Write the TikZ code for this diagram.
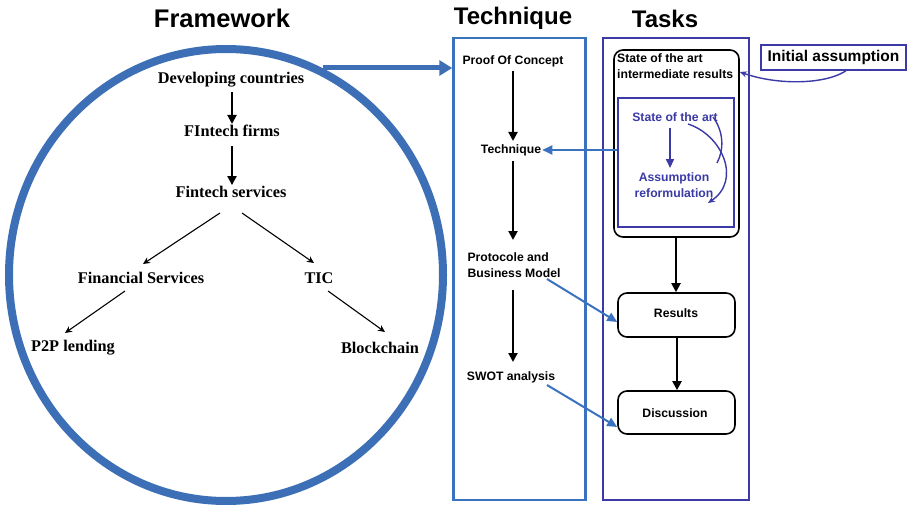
\documentclass[tikz,border=0pt]{standalone}
\usepackage{fontspec}
\setmainfont{Liberation Serif}
\setsansfont{Liberation Sans}
\usetikzlibrary{arrows.meta}
\definecolor{cblue}{HTML}{3D6FB6}
\definecolor{tblue}{HTML}{3A72C0}
\definecolor{indig}{HTML}{3B3AA6}
\begin{document}
\begin{tikzpicture}[x=1pt,y=-1pt,
  fw/.style={font=\fontsize{16.3}{18}\selectfont\bfseries\rmfamily, inner sep=1pt},
  ttl/.style={font=\fontsize{24}{26}\selectfont\bfseries\sffamily, inner sep=0pt},
  tx/.style={font=\fontsize{12.2}{15.5}\selectfont\bfseries\sffamily, inner sep=1pt},
  itx/.style={tx, text=indig},
  blk/.style={-{Triangle[length=9pt,width=9pt]}, line width=2pt, black},
  thin/.style={-{Stealth[length=7pt,width=6.5pt]}, line width=1.1pt, black},
  barr/.style={-{Triangle[length=10pt,width=9pt]}, line width=2pt, tblue},
  iarr/.style={-{Stealth[length=7pt,width=6pt]}, line width=1.4pt, indig},
  rbox/.style={draw=black, line width=1.6pt, rounded corners=9pt}
]
\useasboundingbox (0,0) rectangle (907,508);
\fill[white] (0,0) rectangle (907,508);

% titles
\node[ttl, font=\fontsize{25.5}{28}\selectfont\bfseries\sffamily] (tf) at (222,18) {Framework};
\node[ttl] (tt) at (513,18) {Technique};
\node[ttl] (tk) at (665,19) {Tasks};

% framework circle
\draw[cblue, line width=8pt] (226,275) ellipse [x radius=217, y radius=226];
\coordinate (cstart) at (323,68);

\node[fw] (dev) at (231,80) {Developing countries};
\node[fw] (firms) at (232,131) {FIntech firms};
\node[fw] (serv) at (231,192) {Fintech services};
\node[fw] (fin) at (141,278) {Financial Services};
\node[fw] (tic) at (319,278) {TIC};
\node[fw] (p2p) at (73,348) {P2P lending};
\node[fw] (bc) at (380,348) {Blockchain};

\draw[blk] (232,92) -- (firms.north -| 232,0);
\draw[blk] (232,146) -- (serv.north -| 232,0);
\draw[thin] (220,213) -- (143,264);
\draw[thin] (242,213) -- (314,263);
\draw[thin] (125,291) -- (65,333);
\draw[thin] (328,291) -- (385,332);

% technique box
\node[draw=tblue, line width=2.5pt, minimum width=132pt, minimum height=462pt, inner sep=0pt] (tbox) at (519.5,269) {};
\node[tx] (poc) at (513,61) {Proof Of Concept};
\node[tx] (tech) at (511,150) {Technique};
\node[tx, align=left] (proto) at (514,265) {Protocole and\\Business Model};
\node[tx] (swot) at (511,377) {SWOT analysis};

\draw[-{Triangle[length=13pt,width=15pt]}, cblue, line width=5pt] (cstart) -- (tbox.west |- cstart);

\draw[blk] (513,71) -- (513,141);
\draw[blk] (513,161) -- (513,240);
\draw[blk] (513,290) -- (513,362);

% tasks box
\node[draw=indig, line width=2.5pt, minimum width=146pt, minimum height=462pt, inner sep=0pt] (kbox) at (676,269) {};

\node[rbox, minimum width=125pt, minimum height=187pt, inner sep=0pt] (sota) at (676.5,143.5) {};
\node[tx, align=left, anchor=north west] (sotatxt) at (616,52.5) {State of the art\\intermediate results};
\node[draw=indig, line width=1.8pt, minimum width=116pt, minimum height=129pt, inner sep=0pt] (inner) at (676,162.5) {};
\node[itx] (isota) at (675,117) {State of the art};
\node[itx, align=center] (reform) at (674,185) {Assumption\\reformulation};
\draw[line width=2pt, indig, -{Triangle[length=9pt,width=8pt]}] (670,128) -- (670,168);
\draw[iarr] (688,124) .. controls (722,135) and (742,180) .. (708,203);
\draw[indig, line width=1.4pt] (713,117) .. controls (724,132) and (724,150) .. (717,163);

\node[rbox, minimum width=117pt, minimum height=44pt, inner sep=0pt] (res) at (676.5,315) {};
\node[tx] (restxt) at (676,313) {Results};
\node[rbox, minimum width=117pt, minimum height=43pt, inner sep=0pt] (disc) at (676.5,412.5) {};
\node[tx] (disctxt) at (675,413) {Discussion};

\draw[blk] (sota.south -| 676,0) -- (res.north -| 676,0);
\draw[blk] (res.south -| 677,0) -- (disc.north -| 677,0);

% initial assumption
\node[draw=indig, line width=2pt, minimum width=145pt, minimum height=25pt, inner sep=0pt, font=\fontsize{15.5}{18}\selectfont\bfseries\sffamily] (init) at (833.5,57.5) {Initial assumption};
\coordinate (istart) at (847,70);
\draw[iarr] (istart) .. controls (828,84) and (780,86) .. (sota.east |- 0,72);

% blue arrows
\draw[barr] (inner.west |- tech) -- (tech.east);
\draw[barr] (547,279) -- (res.west |- 0,322);
\draw[barr] (547,385) -- (disc.west |- 0,427);
\end{tikzpicture}
\end{document}
